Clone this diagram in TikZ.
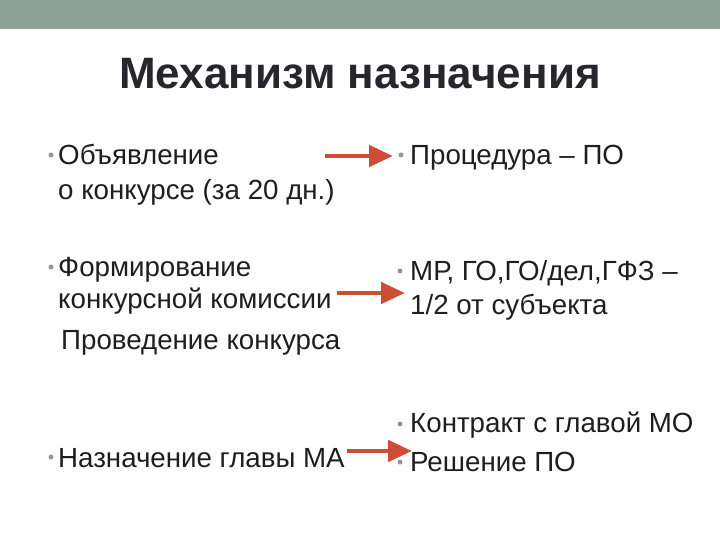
\documentclass[tikz,border=0pt]{standalone}
\usepackage{fontspec}
\setmainfont{Liberation Sans}
\usetikzlibrary{arrows.meta}
\definecolor{barcol}{RGB}{143,161,150}
\definecolor{arrcol}{RGB}{204,78,52}
\definecolor{txtcol}{RGB}{30,30,30}
\definecolor{titlecol}{RGB}{38,38,44}
\definecolor{dotcol}{RGB}{150,150,150}
\begin{document}
\begin{tikzpicture}[x=1pt,y=-1pt,
  body/.style={anchor=base west, inner sep=0pt, text=txtcol, font=\fontsize{27.7}{33}\selectfont},
  bul/.style={circle, fill=dotcol, inner sep=0pt, minimum size=5pt},
  arr/.style={draw=arrcol, line width=4.8pt, -{Triangle[length=24pt,width=21pt]}}]
\useasboundingbox (0,0) rectangle (720,540);
\fill[barcol] (0,0) rectangle (720,29);
\node[anchor=base, inner sep=0pt, text=titlecol, font=\fontsize{44}{52}\selectfont\bfseries] (title) at (360,89) {Механизм назначения};
% left column
\node[bul] (d1) at (51,155) {};
\node[body] (l1a) at (58,165) {Объявление};
\node[body] (l1b) at (58,200) {о конкурсе (за 20 дн.)};
\node[bul] (d2) at (51,267) {};
\node[body] (l2a) at (58,276) {Формирование};
\node[body] (l2b) at (58,308) {конкурсной комиссии};
\node[body] (l3) at (61,349) {Проведение конкурса};
\node[bul] (d4) at (51,457) {};
\node[body] (l4) at (58,467) {Назначение главы МА};
% right column
\node[bul] (e1) at (401,155) {};
\node[body] (r1) at (410,165) {Процедура – ПО};
\node[bul] (e2) at (400,271) {};
\node[body] (r2a) at (410,280) {МР, ГО,ГО/дел,ГФЗ –};
\node[body] (r2b) at (410,314) {1/2 от субъекта};
\node[bul] (e3) at (400,424) {};
\node[body] (r3a) at (410,432) {Контракт с главой МО};
\node[bul] (e4) at (400,462) {};
\node[body] (r3b) at (410,471) {Решение ПО};
% arrows
\coordinate (a1s) at (325,156); \coordinate (a1e) at (393,156);
\coordinate (a2s) at (337,293); \coordinate (a2e) at (405,293);
\coordinate (a3s) at (347,451); \coordinate (a3e) at (412,451);
\draw[arr] (a1s) -- (a1e);
\draw[arr] (a2s) -- (a2e);
\draw[arr] (a3s) -- (a3e);
\end{tikzpicture}
\end{document}
